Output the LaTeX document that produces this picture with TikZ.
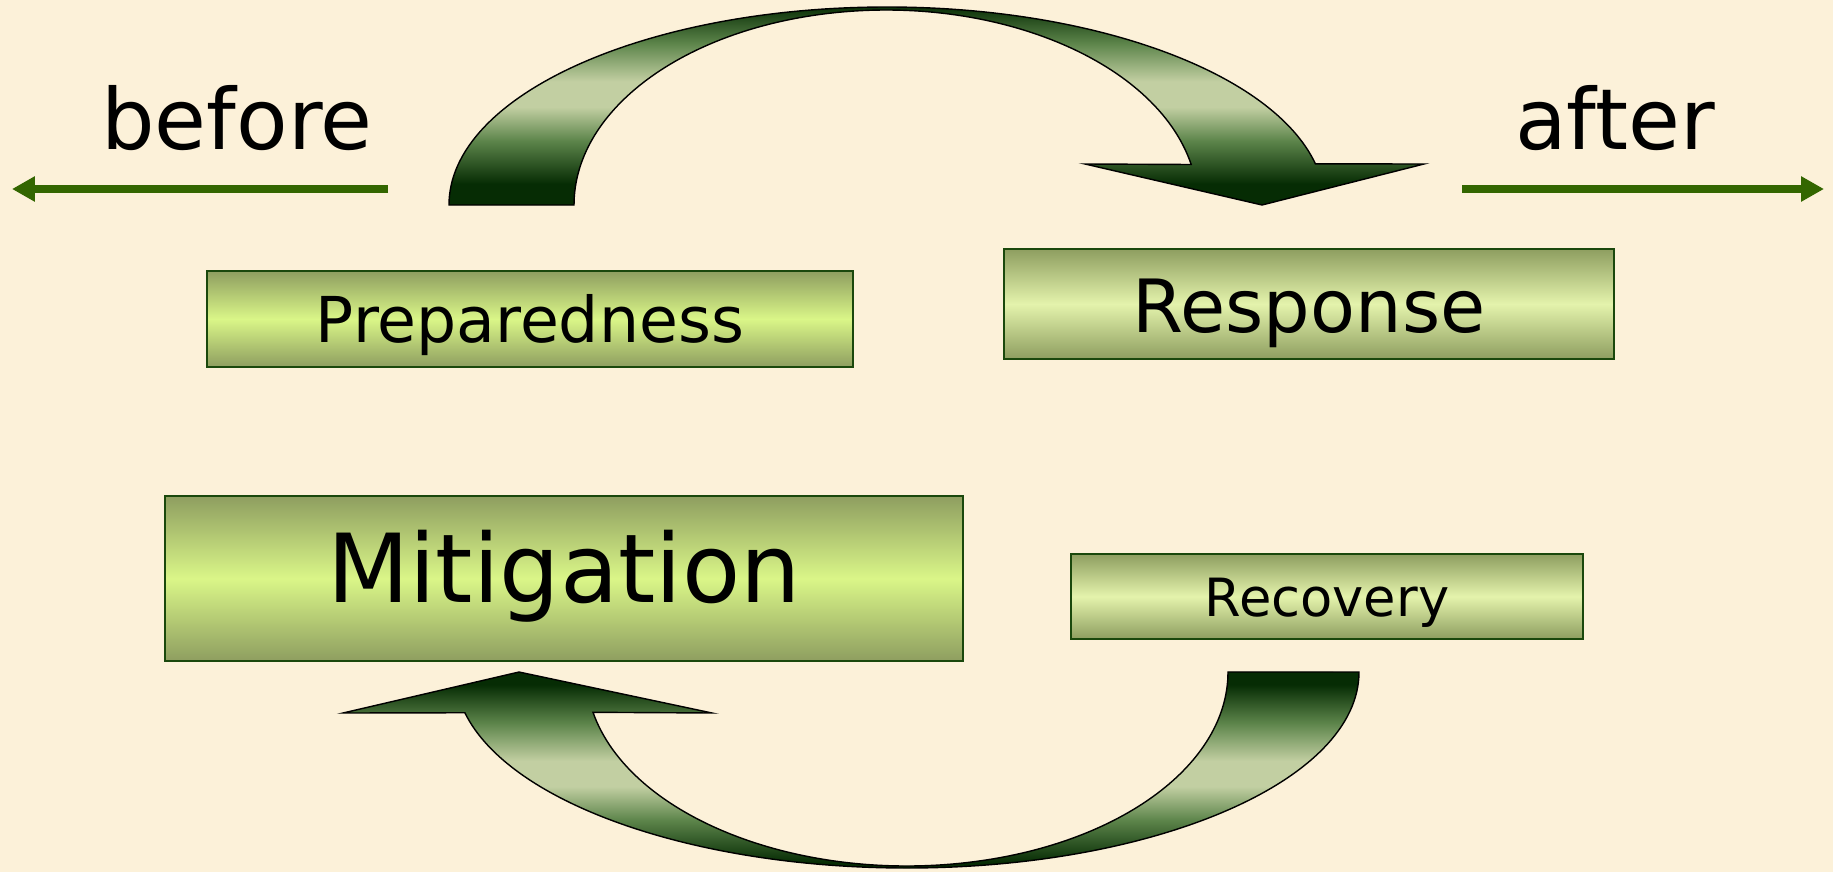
\documentclass[tikz,border=0pt]{standalone}
\usepackage{fontspec}
\setmainfont{DejaVu Sans}
\usetikzlibrary{arrows.meta}
\definecolor{parch}{RGB}{252,241,217}
\definecolor{boxolive}{RGB}{142,158,96}
\definecolor{boxlime}{RGB}{218,246,136}
\definecolor{boxpale}{RGB}{228,243,172}
\definecolor{boxedge}{RGB}{26,72,12}
\definecolor{arrdark}{RGB}{6,44,4}
\definecolor{arrmid}{RGB}{92,132,74}
\definecolor{arrlight}{RGB}{194,207,162}
\definecolor{timegreen}{RGB}{51,102,0}
\pgfdeclareverticalshading{bandshade}{100bp}{color(0bp)=(arrdark); color(25bp)=(arrdark); color(30bp)=(arrdark); color(40bp)=(arrmid); color(48bp)=(arrlight); color(54bp)=(arrlight); color(63bp)=(arrmid); color(72bp)=(arrdark); color(75bp)=(arrdark); color(100bp)=(arrdark)}

\begin{document}
\begin{tikzpicture}[x=0.02cm,y=-0.02cm,
	phase/.style={draw=boxedge, line width=1.2pt, top color=boxolive, bottom color=boxolive, middle color=boxlime, inner sep=0pt, text depth=0pt},
	bigarrow/.style={draw=black, line width=0.8pt, shade, shading=bandshade},
	timearrow/.style={timegreen, line width=4.5pt, -{Triangle[length=0.46cm,width=0.48cm]}}]
	\useasboundingbox (0,0) rectangle (1833,872);
	\fill[parch] (0,0) rectangle (1833,872);

	\node[anchor=base, font=\fontsize{48}{52}\selectfont] (before) at (237,149) {before};
	\node[anchor=base, font=\fontsize{48}{52}\selectfont] (after) at (1615,149) {after};
	\coordinate (past) at (12,189);
	\coordinate (future) at (1824,189);
	\coordinate (bstart) at (388,189);
	\coordinate (astart) at (1462,189);
	\draw[timearrow] (bstart) -- (past);
	\draw[timearrow] (astart) -- (future);

	\node[phase, minimum width=12.92cm, minimum height=1.92cm, text height=27.2pt, font=\fontsize{36}{42}\selectfont] (prep) at (530,319) {Preparedness};
	\node[phase, middle color=boxpale, minimum width=12.2cm, minimum height=2.2cm, text height=32.9pt, font=\fontsize{41.8}{48}\selectfont] (resp) at (1309,304) {Response};
	\node[phase, minimum width=15.96cm, minimum height=3.3cm, text height=27.2pt, font=\fontsize{54.2}{60}\selectfont] (mitig) at (564,578.5) {Mitigation};
	\node[phase, middle color=boxpale, minimum width=10.24cm, minimum height=1.7cm, text height=22.7pt, font=\fontsize{30}{35}\selectfont] (recov) at (1327,596.5) {Recovery};

	\path[bigarrow] (449,205) arc[start angle=180, end angle=348, x radius=438, y radius=198]
		-- (1424,164) -- (1262,205) -- (1085,164) -- (1191.2,164.5)
		arc[start angle=348, end angle=180, x radius=312, y radius=195] -- cycle;
	\path[bigarrow] (1359,672) arc[start angle=0, end angle=168, x radius=452, y radius=196]
		-- (343,713) -- (519,672) -- (712,713) -- (593,712.3)
		arc[start angle=168, end angle=0, x radius=321, y radius=194] -- cycle;
\end{tikzpicture}
\end{document}
